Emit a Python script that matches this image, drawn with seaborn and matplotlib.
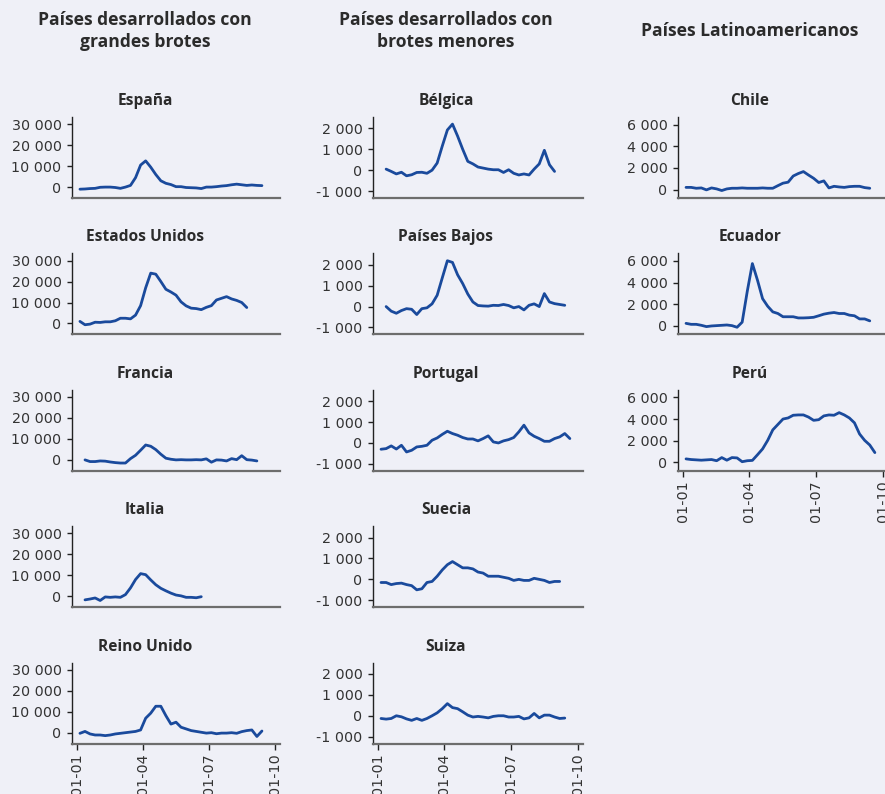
import numpy as np
import pandas as pd
import matplotlib
matplotlib.use("Agg")
import matplotlib.pyplot as plt
import matplotlib.dates as mdates
from matplotlib.ticker import FuncFormatter, FixedLocator
import seaborn as sns

# ---------------- data (weekly, starting 2020-01-05) ----------------
N_WEEKS = 38
week_start = "2020-01-05"

espana = [-1000, -900, -700, -600, -100, 0, 0, -200, -600, 0, 800, 4500, 10500, 12500,
          9500, 6000, 3000, 1800, 1200, 200, 200, -200, -300, -400, -700, 0, 0, 200,
          500, 700, 1100, 1400, 1100, 800, 1000, 800, 700]
estados_unidos = [1000, -600, -300, 600, 500, 800, 800, 1300, 2500, 2500, 2200, 4000, 8500,
                  17000, 24000, 23500, 20000, 16300, 15000, 13500, 10300, 8400, 7300, 7100,
                  6600, 7700, 8500, 11200, 12000, 12800, 11700, 11000, 10000, 7600]
francia = [0, -800, -800, -500, -600, -1000, -1300, -1500, -1500, 600, 2200, 4600, 7100,
           6500, 4900, 2700, 800, 300, 0, 100, 0, 0, 100, 0, 500, -1100, 0, -100, -500,
           600, 100, 2000, 100, -100, -500]
italia = [-1700, -1300, -800, -2000, -300, -500, -300, -500, 800, 4000, 8000, 10800, 10300,
          7800, 5500, 3800, 2600, 1500, 600, 200, -500, -500, -700, -200]
reino_unido = [-300, 600, -600, -1100, -1100, -1400, -1100, -600, -300, 0, 300, 600, 1300,
               6900, 9300, 12600, 12600, 8100, 4100, 5000, 2600, 1800, 1000, 600, 200, -200,
               0, -500, -200, -200, 0, -300, 500, 1000, 1300, -1800, 800]

belgica = [50, -60, -180, -100, -270, -220, -110, -100, -150, 0, 340, 1150, 1920, 2200, 1630,
           1000, 420, 300, 150, 100, 50, 20, 20, -110, 20, -150, -230, -180, -230, 50, 300,
           950, 260, -60]
paises_bajos = [0, -220, -320, -190, -100, -130, -380, -100, -60, 130, 540, 1370, 2190, 2110,
                1520, 1100, 600, 220, 50, 30, 20, 60, 50, 100, 50, -60, 0, -160, 60, 130, 0,
                620, 220, 140, 100, 60]
portugal = [-300, -270, -140, -290, -110, -430, -350, -190, -160, -110, 130, 240, 410, 560,
            450, 370, 260, 190, 190, 100, 210, 340, 50, 0, 100, 160, 260, 530, 850, 480, 320,
            210, 80, 80, 210, 290, 450, 210]
suecia = [-150, -150, -250, -200, -180, -250, -300, -500, -450, -150, -100, 150, 450, 700,
          850, 700, 550, 550, 500, 350, 300, 150, 150, 150, 100, 50, -50, 0, -50, -50, 50, 0,
          -50, -150, -100, -100]
suiza = [-130, -160, -130, 0, -50, -150, -220, -130, -220, -130, 0, 140, 340, 580, 390, 340,
         190, 30, -60, -30, -60, -100, -30, 0, 0, -60, -60, -30, -150, -100, 110, -100, 30, 30,
         -60, -130, -110]

chile = [200, 200, 120, 150, -30, 150, 60, -90, 60, 120, 120, 150, 120, 120, 120, 150, 120,
         120, 360, 590, 680, 1250, 1480, 1660, 1340, 1040, 650, 800, 150, 300, 240, 200, 270,
         300, 300, 180, 120]
ecuador = [240, 150, 150, 60, -60, 0, 30, 60, 90, 30, -120, 350, 3200, 5760, 4230, 2520, 1820,
           1300, 1150, 850, 850, 850, 740, 740, 760, 800, 940, 1090, 1180, 1240, 1150, 1150,
           1000, 940, 650, 650, 470]
peru = [320, 260, 230, 200, 230, 260, 150, 440, 200, 440, 410, 60, 150, 180, 700, 1240, 2030,
        3000, 3500, 4000, 4100, 4350, 4380, 4380, 4180, 3880, 3940, 4290, 4380, 4350, 4590,
        4380, 4100, 3650, 2620, 2030, 1600, 900]

column_titles = ["Países desarrollados con\ngrandes brotes",
                 "Países desarrollados con\nbrotes menores",
                 "Países Latinoamericanos"]
# (name, values, first week index)
columns = [
    [("España", espana, 0), ("Estados Unidos", estados_unidos, 0), ("Francia", francia, 1),
     ("Italia", italia, 1), ("Reino Unido", reino_unido, 0)],
    [("Bélgica", belgica, 1), ("Países Bajos", paises_bajos, 1), ("Portugal", portugal, 0),
     ("Suecia", suecia, 0), ("Suiza", suiza, 0)],
    [("Chile", chile, 0), ("Ecuador", ecuador, 0), ("Perú", peru, 0)],
]
y_ticks = [[0, 10000, 20000, 30000], [-1000, 0, 1000, 2000], [0, 2000, 4000, 6000]]
y_lims = [(-5200, 33400), (-1330, 2540), (-780, 6700)]
x_tick_dates = ["2020-01-01", "2020-04-01", "2020-07-01", "2020-10-01"]
x_lim = ("2019-12-25", "2020-10-08")

# ---------------- styling ----------------
BG = "#EFF0F7"
LINE = "#1A4A9C"
TXT = "#2b2b2b"
TITLE_FONT = ["Open Sans", "DejaVu Sans"]

sns.set_theme(style="ticks")
plt.rcParams["font.family"] = ["DejaVu Sans"]

dates = pd.date_range(week_start, periods=N_WEEKS, freq="7D")


def padded(vals, start):
    arr = np.full(N_WEEKS, np.nan)
    arr[start:start + len(vals)] = vals
    return arr


W, H = 885, 794
fig = plt.figure(figsize=(W / 100, H / 100), dpi=100, facecolor=BG)

col_left = [72, 373, 678]
col_width = [208, 210, 210]
title_x = [145, 446, 750]
row_top0, row_step, ax_h = 117, 136.4, 81

fmt = FuncFormatter(lambda v, p: f"{v:,.0f}".replace(",", " "))

for c, panels in enumerate(columns):
    for r, (name, vals, start) in enumerate(panels):
        top = row_top0 + row_step * r
        ax = fig.add_axes([col_left[c] / W, 1 - (top + ax_h) / H, col_width[c] / W, ax_h / H])
        ax.set_facecolor(BG)
        df = pd.DataFrame({"fecha": dates, "valor": padded(vals, start)})
        sns.lineplot(data=df, x="fecha", y="valor", ax=ax, color=LINE, linewidth=2.0)
        ax.set_xlim(pd.Timestamp(x_lim[0]), pd.Timestamp(x_lim[1]))
        ax.set_ylim(*y_lims[c])
        ax.yaxis.set_major_locator(FixedLocator(y_ticks[c]))
        ax.yaxis.set_major_formatter(fmt)
        ax.set_xlabel("")
        ax.set_ylabel("")
        for s in ["top", "right"]:
            ax.spines[s].set_visible(False)
        ax.spines["left"].set_color("#222222")
        ax.spines["left"].set_linewidth(1.0)
        ax.spines["bottom"].set_color("#6d6d6d")
        ax.spines["bottom"].set_linewidth(1.6)
        ax.tick_params(axis="y", length=3.5, width=1, color="#222222", pad=4,
                       labelsize=10.3, labelcolor="#333333")
        ax.xaxis.set_major_locator(FixedLocator(mdates.date2num(pd.to_datetime(x_tick_dates))))
        ax.xaxis.set_major_formatter(mdates.DateFormatter("%d-%m"))
        if r == len(panels) - 1:
            ax.tick_params(axis="x", length=4, width=1, color="#222222", pad=3,
                           labelsize=10.3, labelcolor="#333333", labelrotation=90)
        else:
            ax.tick_params(axis="x", length=0, labelbottom=False)
        fig.text(title_x[c] / W, 1 - (top - 16) / H, name, ha="center", va="center",
                 fontsize=11.2, fontweight="bold", color=TXT, family=TITLE_FONT)

for c, t in enumerate(column_titles):
    fig.text(title_x[c] / W, 1 - 31 / H, t, ha="center", va="center", fontsize=12.6,
             fontweight="bold", color=TXT, linespacing=1.25, family=TITLE_FONT)

fig.savefig("out.png", dpi=100, facecolor=BG)
